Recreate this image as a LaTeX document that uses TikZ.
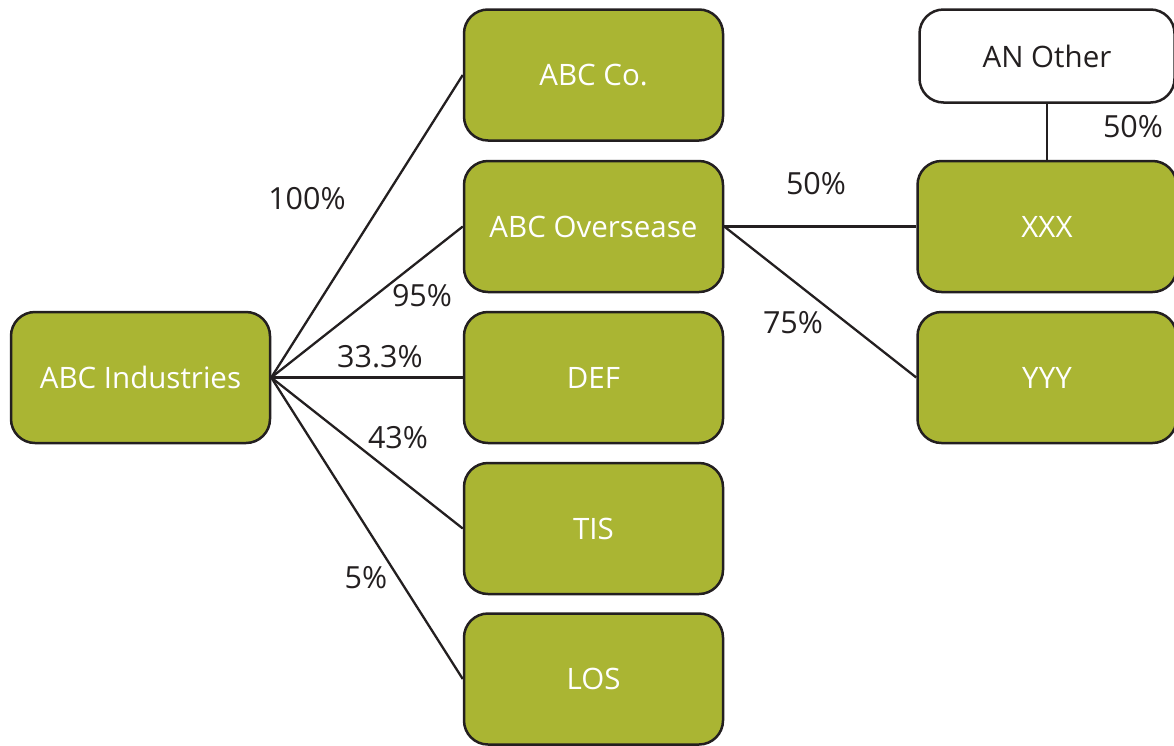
\documentclass[tikz,border=0pt]{standalone}
\usepackage{fontspec}
\setmainfont{Open Sans}
\begin{document}
\begin{tikzpicture}[x=1pt,y=-1pt,
  every node/.style={font=\fontsize{29.5}{32}\selectfont},
  entity/.style={draw=ink, line width=2.5pt, rounded corners=24pt, fill=olive, text=white,
    minimum width=259pt, minimum height=131pt, inner sep=0pt},
  outside/.style={entity, fill=white, text=ink, minimum width=255pt, minimum height=93pt},
  link/.style={draw=ink, line width=2.3pt},
  pct/.style={text=ink, inner sep=0pt, font=\fontsize{30.5}{33}\selectfont}]
\definecolor{olive}{HTML}{AAB533}
\definecolor{ink}{HTML}{231F20}
\useasboundingbox (0,0) rectangle (1174,745);
\begin{scope}
\clip (0,0) rectangle (1174,745);
\node[entity] (ind) at (140.5,377.5) {ABC Industries};
\node[entity] (co)  at (593.5,75) {ABC Co.};
\node[entity] (ovs) at (593.5,226.5) {ABC Oversease};
\node[entity] (def) at (593.5,377.5) {DEF};
\node[entity] (tis) at (593.5,528.5) {TIS};
\node[entity] (los) at (593.5,679) {LOS};
\node[outside] (ano) at (1047,56) {AN Other};
\node[entity] (xxx) at (1047,226.5) {XXX};
\node[entity] (yyy) at (1047,377.5) {YYY};

\draw[link] (ind.east) -- (co.west);
\draw[link] (ind.east) -- (ovs.west);
\draw[link] (ind.east) -- (def.west);
\draw[link] (ind.east) -- (tis.west);
\draw[link] (ind.east) -- (los.west);
\draw[link] (ovs.east) -- (xxx.west);
\draw[link] (ovs.east) -- (yyy.west);
\draw[link] (ano.south) -- (xxx.north);

\node[pct] at (307,199) {100\%};
\node[pct] at (422,296) {95\%};
\node[pct] at (380,357) {33.3\%};
\node[pct] at (398,438) {43\%};
\node[pct] at (366,578) {5\%};
\node[pct] at (816,184) {50\%};
\node[pct] at (793,323) {75\%};
\node[pct] at (1133,127) {50\%};
\end{scope}
\end{tikzpicture}
\end{document}
